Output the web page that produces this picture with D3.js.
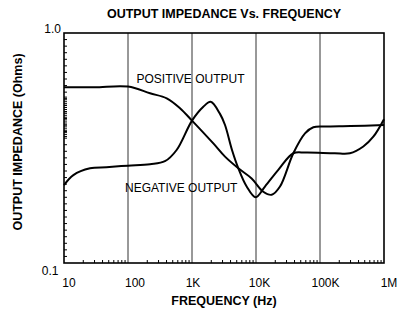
<!DOCTYPE html>
<html><head><meta charset="utf-8">
<script src="https://cdn.jsdelivr.net/npm/d3@7"></script>
<style>
html,body{margin:0;padding:0;background:#fff;}
svg{display:block;font-family:"Liberation Sans",Arial,Helvetica,sans-serif;}
</style></head>
<body><svg id="c" width="406" height="316"></svg>
<script>
// ---- data ----
const freqPos = [10, 30, 100, 221, 403, 649, 1000, 2154, 3280, 5297, 8550, 13000, 17600, 23700, 38300, 58300, 78700, 120000, 300000, 1000000];
const impPos  = [0.581, 0.581, 0.585, 0.547, 0.520, 0.471, 0.416, 0.331, 0.290, 0.258, 0.233, 0.204, 0.198, 0.215, 0.300, 0.366, 0.389, 0.392, 0.394, 0.398];
const freqNeg = [10, 14, 25.5, 46, 100, 221, 378, 575, 1000, 1503, 1958, 2738, 3280, 4217, 5297, 7145, 9890, 13800, 22300, 38300, 60000, 170000, 293000, 475000, 681000, 1000000];
const impNeg  = [0.218, 0.241, 0.258, 0.261, 0.265, 0.269, 0.277, 0.310, 0.416, 0.478, 0.502, 0.445, 0.398, 0.310, 0.258, 0.215, 0.193, 0.215, 0.254, 0.300, 0.302, 0.300, 0.300, 0.321, 0.354, 0.422];
const xTickValues = [10, 100, 1000, 10000, 100000, 1000000];
const xTickLabels = ["10", "100", "1K", "10K", "100K", "1M"];
const yTickLabels = ["0.1", "1.0"];
const seriesLabels = ["POSITIVE OUTPUT", "NEGATIVE OUTPUT"];

// ---- layout ----
const svg = d3.select("#c");
const L = 64, R = 384, T = 33, B = 263;
const x = d3.scaleLog().domain([10, 1e6]).range([L, R]);
const y = d3.scaleLog().domain([0.1, 1]).range([B, T]);

// vertical grid lines
svg.append("g").selectAll("line").data(xTickValues.slice(1, -1)).join("line")
  .attr("x1", d => x(d)).attr("x2", d => x(d)).attr("y1", T).attr("y2", B)
  .attr("stroke", "#333").attr("stroke-width", 1);

// x minor ticks (inward)
const xMinor = [];
for (let dec = 10; dec < 1e6; dec *= 10) for (let k = 2; k <= 9; k++) xMinor.push(dec * k);
svg.append("g").selectAll("line").data(xMinor).join("line")
  .attr("x1", d => x(d)).attr("x2", d => x(d)).attr("y1", B).attr("y2", B - 3)
  .attr("stroke", "#000").attr("stroke-width", 1);

// y minor ticks (inward, irregular as in the original)
const yMinor = [];
for (let i = 1; i < 35; i++) yMinor.push(Math.pow(10, -1 + i / 35));
for (let v = Math.log10(0.355); v < Math.log10(0.53); v += 0.009) yMinor.push(Math.pow(10, v));
svg.append("g").selectAll("line").data(yMinor).join("line")
  .attr("x1", L).attr("x2", L + 3).attr("y1", d => y(d)).attr("y2", d => y(d))
  .attr("stroke", "#000").attr("stroke-width", 1);

// frame
svg.append("rect").attr("x", L).attr("y", T).attr("width", R - L).attr("height", B - T)
  .attr("fill", "none").attr("stroke", "#000").attr("stroke-width", 1.6);

// curves
const line = d3.line().x(d => x(d[0])).y(d => y(d[1])).curve(d3.curveCatmullRom.alpha(0.5));
svg.append("path").datum(d3.zip(freqPos, impPos)).attr("d", line)
  .attr("fill", "none").attr("stroke", "#000").attr("stroke-width", 2);
svg.append("path").datum(d3.zip(freqNeg, impNeg)).attr("d", line)
  .attr("fill", "none").attr("stroke", "#000").attr("stroke-width", 2);

// x tick labels
const xOff = [5, 7, 1, 3.5, 5.5, 5];
svg.append("g").selectAll("text").data(xTickValues).join("text")
  .attr("x", (d, i) => x(d) + xOff[i]).attr("y", 287)
  .attr("text-anchor", "middle").attr("font-size", 12).attr("fill", "#000")
  .text((d, i) => xTickLabels[i]);

// y tick labels
svg.append("text").attr("x", 58.5).attr("y", 275).attr("text-anchor", "end")
  .attr("font-size", 12).text(yTickLabels[0]);
svg.append("text").attr("x", 61).attr("y", 32.5).attr("text-anchor", "end")
  .attr("font-size", 12).text(yTickLabels[1]);

// series labels
svg.append("text").attr("x", 136.5).attr("y", 83).attr("font-size", 12).text(seriesLabels[0]);
svg.append("text").attr("x", 125).attr("y", 192).attr("font-size", 12).text(seriesLabels[1]);

// titles
svg.append("text").attr("x", 224).attr("y", 17.5).attr("text-anchor", "middle")
  .attr("font-size", 12.5).attr("font-weight", "bold").text("OUTPUT IMPEDANCE Vs. FREQUENCY");
svg.append("text").attr("x", 224).attr("y", 305).attr("text-anchor", "middle")
  .attr("font-size", 12.5).attr("font-weight", "bold").text("FREQUENCY (Hz)");
svg.append("text").attr("transform", "translate(21.5,142) rotate(-90)").attr("text-anchor", "middle")
  .attr("font-size", 12.5).attr("font-weight", "bold").text("OUTPUT IMPEDANCE (Ohms)");
</script></body></html>
